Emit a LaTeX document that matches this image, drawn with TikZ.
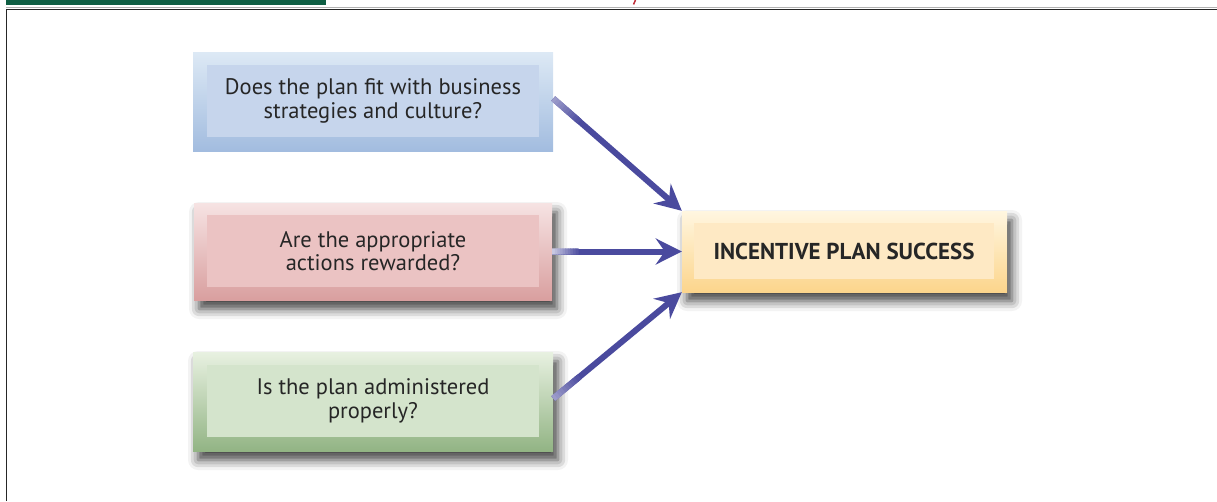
\documentclass[tikz,border=0pt]{standalone}
\usepackage{fontspec}
\setmainfont{PT Sans}
\usetikzlibrary{arrows.meta,shadows.blur,calc}
\definecolor{acol}{HTML}{4A4A9E}
\definecolor{bTop}{HTML}{DDE9F5}\definecolor{bBot}{HTML}{A2BCDF}\definecolor{bIn}{HTML}{C6D5EC}
\definecolor{rTop}{HTML}{F6E3E3}\definecolor{rBot}{HTML}{D99F9F}\definecolor{rIn}{HTML}{EBC3C3}
\definecolor{gTop}{HTML}{E8F1E1}\definecolor{gBot}{HTML}{92B484}\definecolor{gIn}{HTML}{D4E4CC}
\definecolor{yTop}{HTML}{FFF6E0}\definecolor{yBot}{HTML}{FCD58C}\definecolor{yIn}{HTML}{FEE9C4}
\definecolor{barGreen}{HTML}{0E5E43}
\definecolor{markRed}{HTML}{C0303A}
\begin{document}
\begin{tikzpicture}[x=1pt,y=-1pt,
  outerbox/.style={minimum width=360pt, minimum height=99pt, inner sep=0pt, draw=none},
  innerbox/.style={minimum width=332pt, minimum height=72pt, inner sep=0pt, draw=none, align=center,
     font=\fontsize{22.5}{23.5}\selectfont, text=black!85},
  shad/.style={blur shadow={shadow xshift=5pt, shadow yshift=-9pt, shadow blur radius=10pt, shadow opacity=75}},
  arr/.style={draw=acol, line width=6pt, -{Stealth[length=26pt, width=26pt, inset=9pt]}},
  seg/.style={line width=6.2pt}
]
\useasboundingbox (0,0) rectangle (1217,501);
% page furniture
\fill[barGreen] (6,0) rectangle (326,4.5);
\draw[markRed, line width=1.5pt] (635.5,0) -- (633.5,4.5);
\draw[black!30, line width=1pt] (6,7.6) -- (1217,7.6);
\draw[black!85, line width=1.5pt] (6.5,501) -- (6.5,9.7) -- (1217,9.7);

% boxes
\node[outerbox, top color=bTop, bottom color=bBot] (b1o) at (373,101.5) {};
\node[innerbox, fill=bIn] (b1) at (373,101) {Does the plan fit with business\\strategies and culture?};

\node[outerbox, minimum width=358pt, minimum height=97pt, top color=rTop, bottom color=rBot, shad] (b2o) at (373,251.5) {};
\node[innerbox, fill=rIn] (b2) at (373,251) {Are the appropriate\\actions rewarded?};

\node[outerbox, top color=gTop, bottom color=gBot, shad] (b3o) at (373,401.5) {};
\node[innerbox, fill=gIn] (b3) at (373,401) {Is the plan administered\\properly?};

\node[outerbox, minimum width=325pt, minimum height=81pt, top color=yTop, bottom color=yBot, shad] (yo) at (844.5,251.5) {};
\node[innerbox, minimum width=300pt, minimum height=56pt, fill=yIn, font=\fontsize{23}{24}\selectfont\bfseries] (y) at (844,251) {INCENTIVE PLAN SUCCESS};

% arrows
\coordinate (s1) at ($(b1o.east)+(0,-3)$);
\coordinate (s2) at (b2o.east);
\coordinate (s3) at ($(b3o.east)+(0,-3)$);
\foreach \s/\t/\lo in {s1/yo.north west/55, s2/yo.west/30, s3/yo.south west/55}{
  \draw[arr] (\s) -- (\t);
  \foreach \i in {0,...,9}{
    \pgfmathsetmacro\fa{\i*0.02}
    \pgfmathsetmacro\fb{\i*0.02+0.024}
    \pgfmathtruncatemacro\p{\lo+\i*(100-\lo)/10}
    \draw[seg, acol!\p!white] ($(\s)!\fa!(\t)$) -- ($(\s)!\fb!(\t)$);
  }
}
\end{tikzpicture}
\end{document}
